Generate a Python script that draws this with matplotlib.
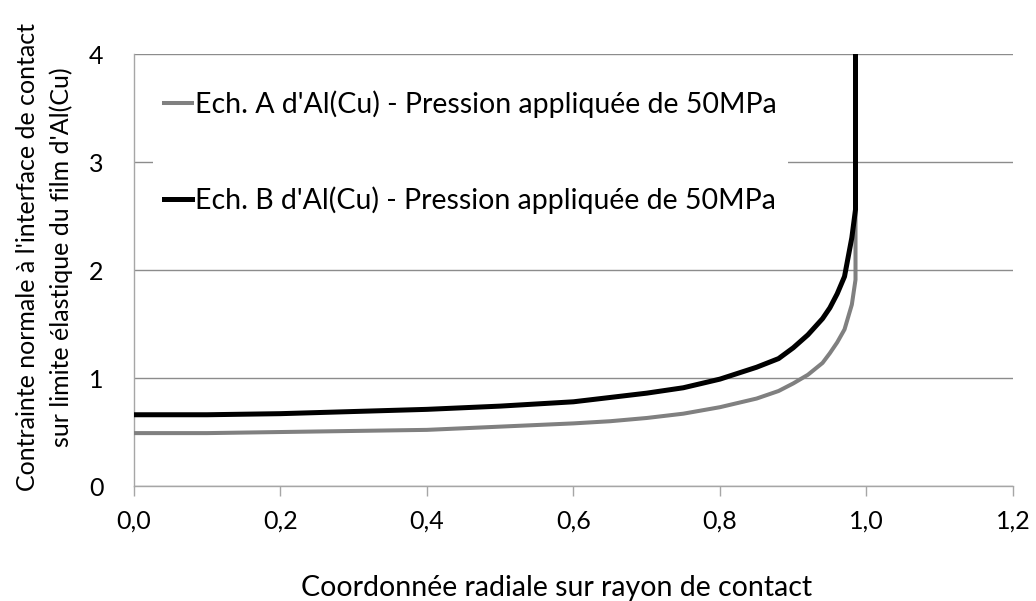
import matplotlib
matplotlib.use("Agg")
import matplotlib.pyplot as plt
from matplotlib.ticker import FuncFormatter

plt.rcParams['font.family'] = ['Lato', 'DejaVu Sans']

# rayon normalisé
r = [0.0, 0.1, 0.2, 0.3, 0.4, 0.5, 0.6, 0.65, 0.7, 0.75, 0.8, 0.85, 0.88,
     0.9, 0.92, 0.94, 0.95, 0.96, 0.97, 0.98, 0.985, 0.985]
# contrainte / limite élastique
ech_a = [0.49, 0.49, 0.50, 0.51, 0.52, 0.55, 0.58, 0.60, 0.63, 0.67, 0.73,
         0.81, 0.88, 0.95, 1.03, 1.14, 1.23, 1.33, 1.45, 1.68, 1.91, 2.56]
ech_b = [0.66, 0.66, 0.67, 0.69, 0.71, 0.74, 0.78, 0.82, 0.86, 0.91, 0.99,
         1.10, 1.18, 1.28, 1.40, 1.55, 1.65, 1.78, 1.94, 2.30, 2.56, 5.0]

lab_a = "Ech. A d'Al(Cu) - Pression appliquée de 50MPa"
lab_b = "Ech. B d'Al(Cu) - Pression appliquée de 50MPa"

fig = plt.figure(figsize=(10.36, 6.01), dpi=100)
ax = fig.add_axes([0.1293, 0.1913, 0.8485, 0.7188])

ax.plot(r, ech_a, color='#808080', lw=2.9, label=lab_a, zorder=3)
ax.plot(r, ech_b, color='black', lw=3.6, label=lab_b, zorder=4)

ax.set_xlim(0, 1.2)
ax.set_ylim(0, 4)
ax.set_xticks([0, 0.2, 0.4, 0.6, 0.8, 1.0, 1.2])
ax.set_yticks([0, 1, 2, 3, 4])
ax.xaxis.set_major_formatter(FuncFormatter(lambda v, p: ('%.1f' % v).replace('.', ',')))
ax.yaxis.set_major_formatter(FuncFormatter(lambda v, p: '%d' % v))

ax.grid(axis='y', color='#8c8c8c', lw=1.0, zorder=1)
for s in ['top', 'right']:
    ax.spines[s].set_visible(False)
for s in ['left', 'bottom']:
    ax.spines[s].set_color('#a6a6a6')
    ax.spines[s].set_linewidth(1.0)

ax.tick_params(axis='x', direction='out', length=7, width=1, color='#a6a6a6',
               labelsize=18, pad=10)
ax.tick_params(axis='y', length=0, labelsize=18, pad=22)

leg = ax.legend(loc='upper left', bbox_to_anchor=(0.005, 0.975), fontsize=20.5,
                frameon=True, facecolor='white', edgecolor='none', framealpha=1,
                fancybox=False, handlelength=1.0, handletextpad=0.1,
                labelspacing=2.4, borderpad=0.4)
leg.set_zorder(5)

fig.text(0.537, 0.008, 'Coordonnée radiale sur rayon de contact', fontsize=20.5,
         ha='center', va='baseline')
fig.text(0.043, 0.572, "Contrainte normale à l'interface de contact\n"
         "sur limite élastique du film d'Al(Cu)", fontsize=18, rotation=90,
         ha='center', va='center', linespacing=1.5)

fig.savefig('out.png', dpi=100)
